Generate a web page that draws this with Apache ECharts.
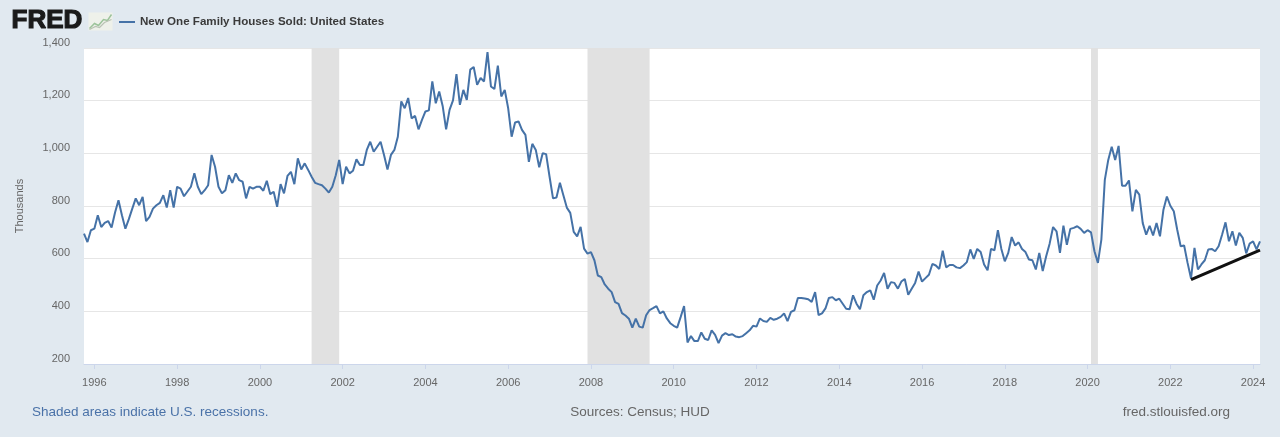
<!DOCTYPE html>
<html>
<head>
<meta charset="utf-8">
<title>New One Family Houses Sold: United States</title>
<script src="https://cdn.jsdelivr.net/npm/echarts@6.0.0/dist/echarts.min.js"></script>
<style>
  html, body { margin: 0; padding: 0; background: #e1e9f0; }
  #chart { width: 1280px; height: 437px; }
</style>
</head>
<body>
<div id="chart"></div>
<script>
// monthly, seasonally adjusted annual rate, thousands of units
const firstMonth = '1995-10';
const housesSold = [
  695, 663, 708,
  714, 765, 720, 736, 743, 718, 775, 822, 765, 714, 750, 790,
  829, 803, 835, 743, 759, 790, 803, 812, 841, 794, 860, 794,
  873, 866, 837, 855, 873, 924, 873, 845, 860, 879, 994, 949,
  873, 848, 860, 917, 888, 924, 898, 892, 829, 873, 866, 873,
  873, 858, 896, 845, 854, 797, 883, 848, 914, 930, 883, 981,
  939, 962, 937, 911, 888, 883, 879, 866, 851, 873, 917, 975,
  883, 949, 924, 934, 977, 956, 956, 1013, 1044, 1006, 1025, 1044,
  994, 939, 994, 1013, 1063, 1197, 1171, 1210, 1133, 1142, 1091, 1127,
  1159, 1163, 1273, 1190, 1235, 1180, 1091, 1165, 1201, 1301, 1184, 1241,
  1203, 1318, 1328, 1260, 1286, 1273, 1384, 1254, 1244, 1333, 1216, 1241,
  1171, 1063, 1117, 1121, 1089, 1070, 968, 1036, 1013, 947, 1000, 997,
  911, 829, 832, 888, 841, 794, 774, 702, 685, 721, 638, 619,
  625, 594, 536, 530, 502, 486, 473, 435, 428, 393, 384, 372,
  338, 372, 342, 338, 385, 405, 412, 420, 392, 400, 373, 355,
  345, 338, 378, 420, 282, 306, 287, 287, 320, 296, 291, 328,
  311, 279, 308, 317, 310, 313, 304, 302, 306, 317, 328, 345,
  342, 373, 363, 360, 375, 368, 372, 379, 392, 363, 398, 404,
  451, 451, 449, 446, 436, 473, 386, 392, 411, 451, 454, 442,
  448, 429, 410, 408, 461, 429, 408, 461, 473, 480, 444, 498,
  517, 546, 486, 511, 508, 486, 513, 523, 463, 486, 508, 551,
  513, 526, 539, 580, 574, 561, 630, 567, 576, 576, 567, 564,
  574, 587, 635, 599, 637, 625, 578, 556, 637, 632, 708, 637,
  590, 622, 682, 650, 662, 637, 625, 597, 594, 559, 622, 553,
  609, 657, 720, 704, 622, 725, 653, 713, 717, 723, 713, 698,
  708, 700, 628, 584, 672, 899, 975, 1025, 975, 1028, 877, 877,
  897, 780, 861, 843, 735, 691, 725, 688, 735, 685, 786, 836,
  801, 780, 710, 647, 650, 584, 525, 641, 559, 578, 594, 635,
  637, 628, 647, 691, 738, 666, 704, 650, 698, 679, 620, 657,
  666, 635, 666
];
const yearTicks = [1996, 1998, 2000, 2002, 2004, 2006, 2008, 2010, 2012, 2014, 2016, 2018, 2020, 2022, 2024];
const recessions = [['2001-04', '2001-12'], ['2007-12', '2009-06'], ['2020-02', '2020-04']];
const trendStart = ['2022-07', 520];
const trendEnd = ['2024-03', 632];

const font = '"Liberation Sans", Arial, sans-serif';

function toYear(ym) {
  const [y, m] = ym.split('-').map(Number);
  return y + (m - 1) / 12;
}

const x0 = toYear(firstMonth);
const points = housesSold.map((v, i) => [x0 + i / 12, v]);
const xMax = x0 + (housesSold.length - 1) / 12;

const chart = echarts.init(document.getElementById('chart'));

const option = {
  backgroundColor: '#e1e9f0',
  animation: false,
  textStyle: { fontFamily: font },
  grid: {
    left: 84, right: 20, top: 48, bottom: 73,
    show: true, backgroundColor: '#ffffff', borderWidth: 0
  },
  legend: {
    left: 114, top: 11,
    icon: 'rect', itemWidth: 16, itemHeight: 2, itemGap: 5,
    textStyle: { color: '#3a3a3a', fontSize: 11.6, fontWeight: 'bold', fontFamily: font }
  },
  xAxis: {
    type: 'value',
    min: x0, max: xMax,
    axisLine: { show: true, lineStyle: { color: '#ccd6eb' } },
    axisTick: { show: true, length: 5, customValues: yearTicks, lineStyle: { color: '#ccd6eb' } },
    axisLabel: {
      customValues: yearTicks, color: '#666666', fontSize: 11, margin: 13,
      formatter: v => String(Math.round(v))
    },
    splitLine: { show: false }
  },
  yAxis: {
    type: 'value',
    min: 200, max: 1400, interval: 200,
    name: 'Thousands', nameLocation: 'middle', nameGap: 59, nameRotate: 90,
    nameTextStyle: { color: '#666666', fontSize: 11 },
    axisLine: { show: false },
    axisTick: { show: false },
    axisLabel: {
      color: '#666666', fontSize: 11, margin: 14, verticalAlign: 'bottom',
      formatter: v => String(v).replace(/\B(?=(\d{3})+(?!\d))/g, ',')
    },
    splitLine: { lineStyle: { color: '#e6e6e6', width: 1 } }
  },
  series: [{
    name: 'New One Family Houses Sold: United States',
    type: 'line',
    data: points,
    showSymbol: false,
    symbol: 'none',
    color: '#4572a7',
    lineStyle: { color: '#4572a7', width: 2 },
    markArea: {
      silent: true,
      itemStyle: { color: '#e1e1e1' },
      data: recessions.map(r => [{ xAxis: toYear(r[0]) }, { xAxis: toYear(r[1]) }])
    },
    markLine: {
      silent: true,
      symbol: 'none',
      label: { show: false },
      lineStyle: { color: '#111111', width: 3, type: 'solid' },
      data: [[
        { coord: [toYear(trendStart[0]), trendStart[1]] },
        { coord: [toYear(trendEnd[0]), trendEnd[1]] }
      ]]
    }
  }],
  graphic: [
    {
      type: 'text', left: 11, top: 7,
      style: {
        text: 'FRED', fontSize: 26, fontWeight: 'bold', fontFamily: font,
        fill: '#1a1a1a', stroke: '#1a1a1a', lineWidth: 1.2
      }
    },
    {
      type: 'group', left: 87, top: 12,
      children: [
        { type: 'rect', shape: { x: 0, y: 0, width: 24, height: 18 }, style: { fill: '#eef1ea' } },
        { type: 'polyline', shape: { points: [[1, 16], [6, 11], [10, 13], [15, 7], [19, 8], [23, 2]] },
          style: { stroke: '#9cc39a', lineWidth: 1.5, fill: null } },
        { type: 'polyline', shape: { points: [[1, 17], [7, 14], [11, 15], [16, 10], [23, 7]] },
          style: { stroke: '#b9c2b4', lineWidth: 1.2, fill: null } }
      ]
    },
    {
      type: 'text', left: 32, top: 405,
      style: { text: 'Shaded areas indicate U.S. recessions.', fontSize: 13.5, fontFamily: font, fill: '#4a72a8' }
    },
    {
      type: 'text', left: 'center', top: 405,
      style: { text: 'Sources: Census; HUD', fontSize: 13.5, fontFamily: font, fill: '#666666' }
    },
    {
      type: 'text', right: 50, top: 405,
      style: { text: 'fred.stlouisfed.org', fontSize: 13.5, fontFamily: font, fill: '#666666' }
    }
  ]
};

chart.setOption(option);
window.addEventListener('resize', () => chart.resize());
</script>
</body>
</html>
